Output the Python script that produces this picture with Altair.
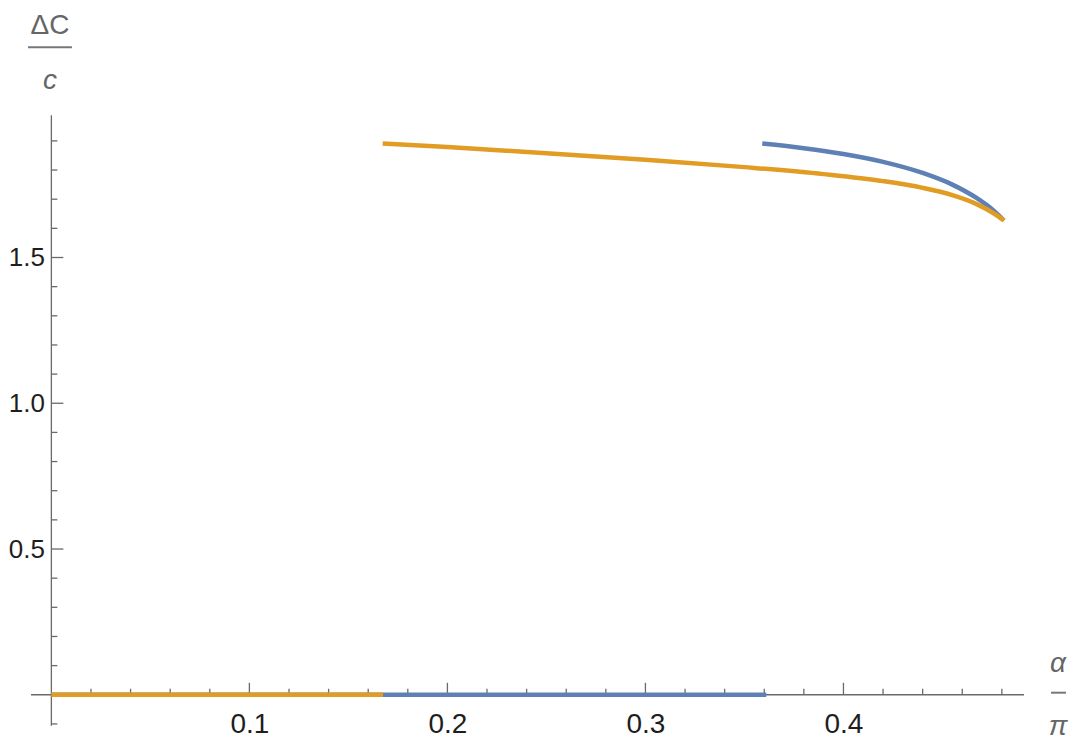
import altair as alt
import pandas as pd

# ---------------- data ----------------
blue_flat_x = [0.0, 0.361]
blue_flat_y = [0.0, 0.0]
blue_curve_x = [0.359, 0.38, 0.40, 0.42, 0.44, 0.455, 0.467, 0.476, 0.4811]
blue_curve_y = [1.891, 1.875, 1.855, 1.828, 1.790, 1.750, 1.705, 1.660, 1.627]

orange_flat_x = [0.0, 0.1675]
orange_flat_y = [0.0, 0.0]
orange_curve_x = [0.1673, 0.20, 0.25, 0.30, 0.35, 0.39, 0.42, 0.44, 0.455, 0.467, 0.476, 0.4811]
orange_curve_y = [1.891, 1.879, 1.858, 1.835, 1.810, 1.786, 1.762, 1.739, 1.714, 1.684, 1.651, 1.627]

x_major_ticks = [0.1, 0.2, 0.3, 0.4]
x_minor_ticks = [0.02, 0.04, 0.06, 0.08, 0.12, 0.14, 0.16, 0.18, 0.22, 0.24, 0.26, 0.28,
                 0.32, 0.34, 0.36, 0.38, 0.42, 0.44, 0.46, 0.48]
y_major_ticks = [0.5, 1.0, 1.5]
y_minor_ticks = [-0.1, 0.1, 0.2, 0.3, 0.4, 0.6, 0.7, 0.8, 0.9, 1.1, 1.2, 1.3, 1.4,
                 1.6, 1.7, 1.8, 1.9]

x_domain = [-0.0103, 0.4912]
y_domain = [-0.106, 1.988]

# ---------------- layout ----------------
W, H = 994, 611
AXIS_GRAY = "#6a6a6a"
BLUE = "#5E81B5"
ORANGE = "#E19C24"
FONT = "Liberation Sans"

x_off = -(0 - y_domain[0]) / (y_domain[1] - y_domain[0]) * H
y_off = -(0 - x_domain[0]) / (x_domain[1] - x_domain[0]) * W

xs = alt.Scale(domain=x_domain, nice=False, zero=False)
ys = alt.Scale(domain=y_domain, nice=False, zero=False)

XA = alt.Axis(values=x_major_ticks, format=".1f", domain=False, ticks=False, tickSize=0,
              grid=False, labelFontSize=28, labelFont=FONT, labelColor="#1e1e1e",
              labelPadding=16, offset=x_off, title=None, labelFlush=False)
YA = alt.Axis(values=y_major_ticks, format=".1f", domain=False, ticks=False, tickSize=0,
              grid=False, labelFontSize=26, labelFont=FONT, labelColor="#1e1e1e",
              labelPadding=7, offset=y_off, title=None, labelFlush=False)


def X(field="x"):
    return alt.X(f"{field}:Q", scale=xs, axis=XA)


def Y(field="y"):
    return alt.Y(f"{field}:Q", scale=ys, axis=YA)


def line_layer(xv, yv, color):
    return alt.Chart(pd.DataFrame({"x": xv, "y": yv})).mark_line(
        color=color, strokeWidth=4.5, strokeCap="butt", strokeJoin="round",
        interpolate="monotone"
    ).encode(x=X(), y=Y(), order=alt.Order("x:Q"))


zero_df = pd.DataFrame({"x": [0.0], "y": [0.0]})

# axis lines through the origin
x_axis_line = alt.Chart(zero_df).mark_rule(color=AXIS_GRAY, strokeWidth=1.3).encode(y=Y())
y_axis_line = alt.Chart(zero_df).mark_rule(color=AXIS_GRAY, strokeWidth=1.3).encode(x=X())


def xticks(vals, size):
    df = pd.DataFrame({"x": vals, "y": [0.0] * len(vals)})
    return alt.Chart(df).mark_tick(
        orient="vertical", size=size, thickness=1.3, color=AXIS_GRAY, yOffset=-size / 2, opacity=1
    ).encode(x=X(), y=Y())


def yticks(vals, size):
    df = pd.DataFrame({"y": vals, "x": [0.0] * len(vals)})
    return alt.Chart(df).mark_tick(
        orient="horizontal", size=size, thickness=1.3, color=AXIS_GRAY, xOffset=size / 2, opacity=1
    ).encode(x=X(), y=Y())


dummy = pd.DataFrame({"d": [0]})


def label(text, px, py, italic=False, size=30):
    return alt.Chart(dummy).mark_text(
        text=text, font=FONT, fontSize=size, color="#666666", align="center",
        baseline="alphabetic", fontStyle="italic" if italic else "normal"
    ).encode(x=alt.value(px), y=alt.value(py))


def bar(x1, x2, py):
    return alt.Chart(dummy).mark_rule(color="#777777", strokeWidth=2).encode(
        x=alt.value(x1), x2=alt.value(x2), y=alt.value(py)
    )


chart = alt.layer(
    x_axis_line,
    y_axis_line,
    xticks(x_major_ticks, 12),
    xticks(x_minor_ticks, 6),
    yticks(y_major_ticks, 12),
    yticks(y_minor_ticks, 6),
    line_layer(blue_flat_x, blue_flat_y, BLUE),
    line_layer(blue_curve_x, blue_curve_y, BLUE),
    line_layer(orange_flat_x, orange_flat_y, ORANGE),
    line_layer(orange_curve_x, orange_curve_y, ORANGE),
    label("ΔC", 19, -81, size=28),
    bar(-3, 41, -68),
    label("c", 19, -26, italic=True, size=28),
    label("α", 1028, 557, italic=True, size=28),
    bar(1021, 1036, 578),
    label("π", 1028, 620, italic=True, size=28),
).properties(
    width=W,
    height=H,
    autosize=alt.AutoSizeParams(type="none"),
    padding={"left": 23, "top": 107, "right": 48, "bottom": 14},
).configure_view(stroke=None)

chart.save("out.html", embed_options={"renderer": "svg", "actions": False})
